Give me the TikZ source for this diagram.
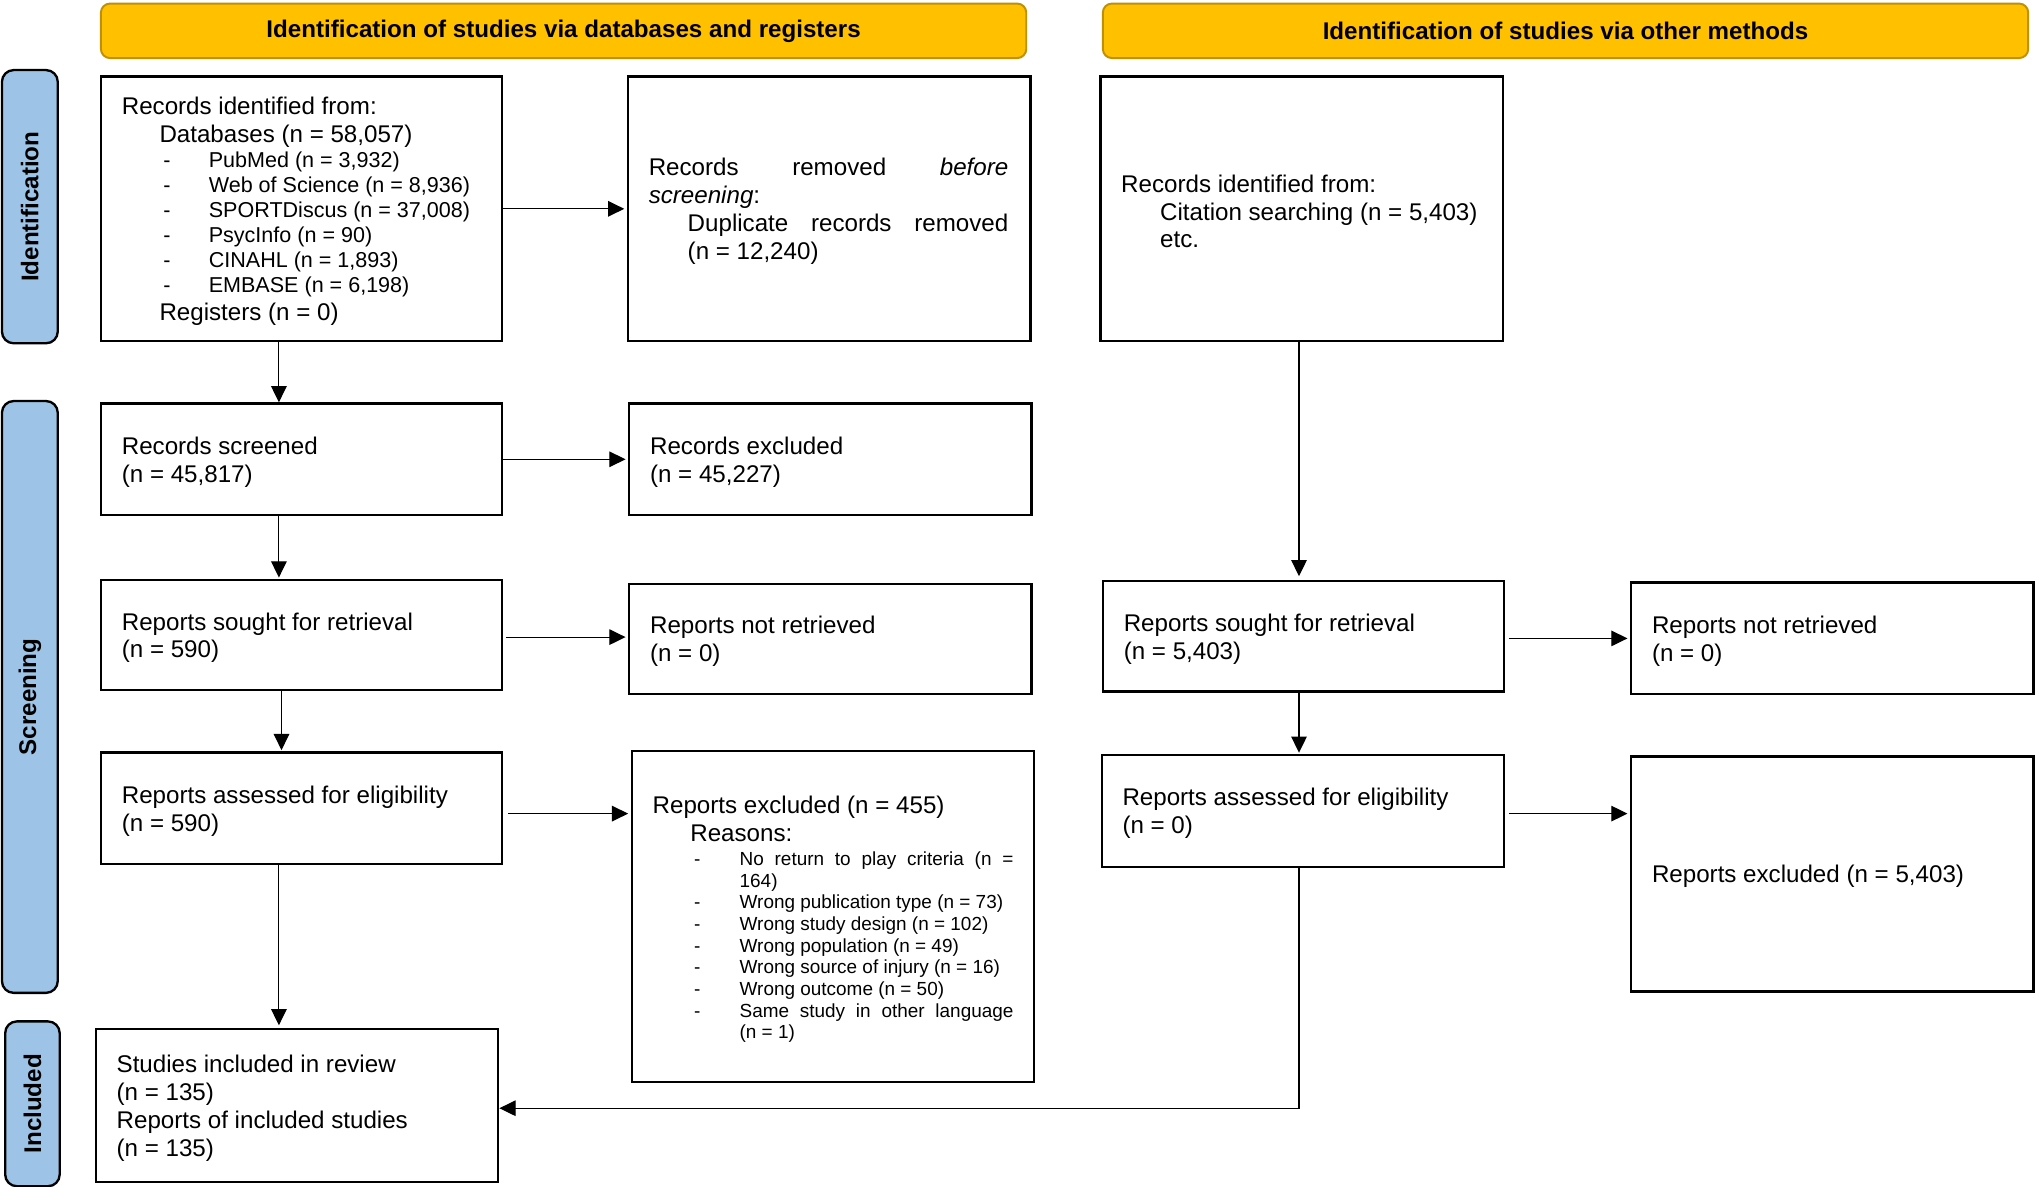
\documentclass[tikz,border=0pt]{standalone}
\usepackage{fontspec}
\setmainfont{Liberation Sans}
\usetikzlibrary{arrows.meta}
\setlength\parindent{0pt}
\newcommand\mainfs{\fontsize{18.6}{21.5}\selectfont}
\newcommand\listfs{\fontsize{16.6}{19.3}\selectfont}
\newcommand\smallfs{\fontsize{14.6}{16.7}\selectfont}
\newcommand\dashitem[1]{\hspace*{32pt}\makebox[35pt][l]{-}#1}
\definecolor{hdrfill}{HTML}{FFC000}
\definecolor{hdrdraw}{HTML}{BF9000}
\definecolor{sidefill}{HTML}{9DC3E6}
\tikzset{
  box/.style={draw=black, line width=1.8pt, fill=white, anchor=north west,
    inner xsep=16pt, inner ysep=0pt, font=\mainfs,
    execute at begin node={\raggedright\spaceskip=0pt\xspaceskip=0pt\relax},
    execute at end node={\par\vspace*{-4pt}}},
  hdr/.style={draw=hdrdraw, fill=hdrfill, line width=1.5pt, rounded corners=7pt,
    anchor=north west, inner sep=0pt, font=\mainfs\bfseries},
  side/.style={draw=black, fill=sidefill, line width=1.8pt, rounded corners=9pt,
    rotate=90, inner sep=0pt, font=\mainfs\bfseries},
  arr/.style={draw=black, line width=0.9pt, -{Triangle[length=12.5pt,width=12pt]}}
}
\begin{document}
\begin{tikzpicture}[x=1pt,y=-1pt]
\useasboundingbox (0,0) rectangle (1568,914.6);
\fill[white] (0,0) rectangle (1568,914.6);

% headers
\node[hdr, minimum width=713pt, minimum height=42pt] (h1) at (77,2) {Identification of studies via databases and registers};
\node[hdr, minimum width=713pt, minimum height=42pt] (h2) at (849,2) {Identification of studies via other methods};

% side labels
\node[side, minimum width=210.5pt, minimum height=43pt] (s1) at (23,159.25) {Identification};
\node[side, minimum width=456pt, minimum height=43pt] (s2) at (23,537) {Screening};
\node[side, minimum width=127pt, minimum height=42pt] (s3) at (25,850.5) {Included};

% boxes
\node[box, text width=277pt, minimum height=204pt] (b1) at (77,58) {%
Records identified from:\par
\hspace*{29pt}Databases (n = 58,057)\par
{\listfs
\dashitem{PubMed (n = 3,932)}\par
\dashitem{Web of Science (n = 8,936)}\par
\dashitem{SPORTDiscus (n = 37,008)}\par
\dashitem{PsycInfo (n = 90)}\par
\dashitem{CINAHL (n = 1,893)}\par
\dashitem{EMBASE (n = 6,198)}\par}
\hspace*{29pt}Registers (n = 0)};

\node[box, text width=278pt, minimum height=204pt] (b2) at (483,58) {%
\makebox[277pt][s]{Records removed \textit{before}}\par
\textit{screening}:\par
\hspace*{30pt}\makebox[247pt][s]{Duplicate records removed}\par
\hspace*{30pt}(n = 12,240)};

\node[box, text width=278pt, minimum height=204pt] (b3) at (847,58) {%
Records identified from:\par
\hspace*{30pt}Citation searching (n = 5,403)\par
\hspace*{30pt}etc.};

\node[box, text width=277pt, minimum height=86pt] (b4) at (77,310) {Records screened\par (n = 45,817)};
\node[box, text width=278pt, minimum height=86pt] (b5) at (484,310) {Records excluded\par (n = 45,227)};

\node[box, text width=277pt, minimum height=85pt] (b6) at (77,446) {Reports sought for retrieval\par (n = 590)};
\node[box, text width=278pt, minimum height=85pt] (b7) at (484,449) {Reports not retrieved\par (n = 0)};
\node[box, text width=277pt, minimum height=85pt] (b8) at (849,447) {Reports sought for retrieval\par (n = 5,403)};
\node[box, text width=278pt, minimum height=86pt] (b9) at (1256,448) {Reports not retrieved\par (n = 0)};

\node[box, text width=277pt, minimum height=86pt] (b10) at (77,579) {Reports assessed for eligibility\par (n = 590)};
\node[box, text width=278pt, minimum height=255pt] (b11) at (486,578) {%
Reports excluded (n = 455)\par
\hspace*{29pt}Reasons:\par
\vspace*{2pt}%
{\smallfs
\dashitem{\makebox[211pt][s]{No return to play criteria (n =}}\par
\hspace*{67pt}164)\par
\dashitem{Wrong publication type (n = 73)}\par
\dashitem{Wrong study design (n = 102)}\par
\dashitem{Wrong population (n = 49)}\par
\dashitem{Wrong source of injury (n = 16)}\par
\dashitem{Wrong outcome (n = 50)}\par
\dashitem{\makebox[211pt][s]{Same study in other language}}\par
\hspace*{67pt}(n = 1)\par}};
\node[box, text width=278pt, minimum height=86pt] (b12) at (848,581) {Reports assessed for eligibility\par (n = 0)};
\node[box, text width=278pt, minimum height=181pt] (b13) at (1256,582) {Reports excluded (n = 5,403)};

\node[box, text width=278pt, minimum height=118pt] (b14) at (73,792) {%
Studies included in review\par (n = 135)\par Reports of included studies\par (n = 135)};

% connectors
\draw[arr, shorten >=2pt] (b1.east) -- (b1.east -| b2.west);
\draw[arr, shorten >=2pt] (b4.east) -- (b4.east -| b5.west);
\draw[arr, shorten >=2pt, shorten <=2pt] ([yshift=-1.5pt]b6.east) -- ([yshift=-1.5pt]b6.east -| b7.west);
\draw[arr, shorten >=2pt, shorten <=4pt] ([yshift=-4pt]b10.east) -- ([yshift=-4pt]b10.east -| b11.west);
\draw[arr, shorten >=2pt, shorten <=3pt] ([yshift=-1.5pt]b8.east) -- ([yshift=-1.5pt]b8.east -| b9.west);
\draw[arr, shorten >=2pt, shorten <=3pt] ([yshift=-2pt]b12.east) -- ([yshift=-2pt]b12.east -| b13.west);

\draw[arr] ([xshift=-17.5pt]b1.south) -- ([xshift=-17.5pt]b4.north);
\draw[arr, shorten >=1pt] ([xshift=-17.5pt]b4.south) -- ([xshift=-17.5pt]b6.north);
\draw[arr, shorten >=1pt] ([xshift=-15.5pt]b6.south) -- ([xshift=-15.5pt]b10.north);
\draw[arr, shorten >=2pt] ([xshift=-17.5pt]b10.south) -- ([xshift=-17.5pt]b10.south |- b14.north);

\draw[arr, shorten >=3pt] ([xshift=-2pt]b3.south) -- ([xshift=-2pt]b3.south |- b8.north);
\draw[arr, shorten >=1pt] ([xshift=-3.5pt]b8.south) -- ([xshift=-3.5pt]b8.south |- b12.north);
\draw[arr] ([xshift=-3pt]b12.south) |- ([yshift=-2pt]b14.east);
\end{tikzpicture}
\end{document}
